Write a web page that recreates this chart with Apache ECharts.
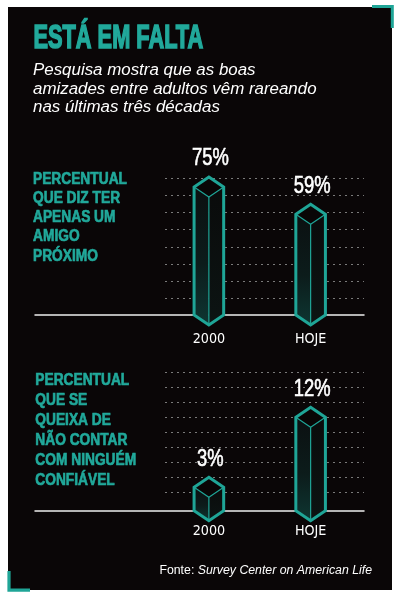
<!DOCTYPE html>
<html><head><meta charset="utf-8">
<script src="https://cdn.jsdelivr.net/npm/echarts@6/dist/echarts.min.js"></script>
<style>html,body{margin:0;padding:0;background:#fff}#c{width:400px;height:598px}</style>
</head><body><div id="c"></div>
<script>
// ---- data ----
const categories = ['2000', 'HOJE'];
const onlyOneCloseFriend = [75, 59];
const noOneToTrust = [3, 12];
const titleText = 'ESTÁ EM FALTA';
const subtitleLines = ['Pesquisa mostra que as boas', 'amizades entre adultos vêm rareando', 'nas últimas três décadas'];
const label1Lines = ['PERCENTUAL', 'QUE DIZ TER', 'APENAS UM', 'AMIGO', 'PRÓXIMO'];
const label2Lines = ['PERCENTUAL', 'QUE SE', 'QUEIXA DE', 'NÃO CONTAR', 'COM NINGUÉM', 'CONFIÁVEL'];
const sourceLabel = 'Fonte: ';
const sourceName = 'Survey Center on American Life';

// ---- style ----
const TEAL = '#1fa597';
const TEAL_TXT = '#21a99b';
const PANEL = '#0a0607';
const NARROW = '"Liberation Sans Narrow", "DejaVu Sans Condensed", sans-serif';

function prism(params, api) {
  const cat = api.value(0), v = api.value(1);
  const t = api.coord([cat, v]), b = api.coord([cat, 0]);
  const cx = t[0], yT = t[1], yB = b[1], hw = 14.8, d = 10;
  return {
    type: 'group',
    children: [
      { type: 'polygon', shape: { points: [[cx - hw, yT], [cx, yT + d], [cx, yB + d], [cx - hw, yB]] },
        style: { fill: new echarts.graphic.LinearGradient(0, 0, 0, 1, [{ offset: 0, color: '#0b1011' }, { offset: 0.55, color: '#0c1c1b' }, { offset: 1, color: '#0e3632' }]) } },
      { type: 'polygon', shape: { points: [[cx, yT + d], [cx + hw, yT], [cx + hw, yB], [cx, yB + d]] },
        style: { fill: new echarts.graphic.LinearGradient(0, 0, 0, 1, [{ offset: 0, color: '#0a0b0b' }, { offset: 1, color: '#0c1413' }]) } },
      { type: 'polygon', shape: { points: [[cx, yT - d], [cx + hw, yT], [cx, yT + d], [cx - hw, yT]] },
        style: { fill: '#090606' } },
      { type: 'polyline', shape: { points: [[cx - hw, yT], [cx, yT + d], [cx + hw, yT]] },
        style: { stroke: TEAL, lineWidth: 1.2, fill: 'none' } },
      { type: 'line', shape: { x1: cx, y1: yT + d, x2: cx, y2: yB + d },
        style: { stroke: TEAL, lineWidth: 1.2 } },
      { type: 'polygon', shape: { points: [[cx, yT - d], [cx + hw, yT], [cx + hw, yB], [cx, yB + d], [cx - hw, yB], [cx - hw, yT]] },
        style: { fill: 'none', stroke: TEAL, lineWidth: 3, lineJoin: 'miter' } },
      { type: 'text', x: cx + 1.5, y: yT - d - 18, scaleX: 0.8,
        style: { text: v + '%', fill: '#ffffff', stroke: '#ffffff', lineWidth: 0.6, font: '23px "Liberation Sans"', textAlign: 'center', textVerticalAlign: 'middle' } }
    ]
  };
}

const hiddenAxis = (g, extra) => Object.assign({ gridIndex: g, type: 'value', show: false }, extra || {});
const baseX = g => ({ gridIndex: g, type: 'value', min: 0, max: 1, z: 1,
  axisLine: { show: true, onZero: false, lineStyle: { color: '#eeeeee', width: 1.5 } },
  axisTick: { show: false }, axisLabel: { show: false }, splitLine: { show: false } });
const catX = (g, margin) => ({ gridIndex: g, type: 'category', data: categories,
  axisLine: { show: false }, axisTick: { show: false },
  axisLabel: { color: '#ffffff', fontFamily: NARROW, fontSize: 14.2, margin: margin } });
const dashY = (g, max, interval) => ({ gridIndex: g, type: 'value', min: 0, max: max, interval: interval,
  axisLine: { show: false }, axisTick: { show: false }, axisLabel: { show: false },
  splitLine: { show: true, showMinLine: false, lineStyle: { color: '#7a7a7a', width: 1, type: [2, 4] } } });

const option = {
  backgroundColor: '#ffffff',
  animation: false,
  grid: [
    { left: 35, right: 36, top: 178.5, height: 136.5 },
    { left: 165, right: 36, top: 178.5, height: 136.5 },
    { left: 158, width: 203.5, top: 178.5, height: 136.5 },
    { left: 35, right: 36, top: 370.7, height: 140 },
    { left: 165, right: 36, top: 372.25, height: 135.45 },
    { left: 158, width: 203.5, top: 370.7, height: 140 }
  ],
  xAxis: [baseX(0), hiddenAxis(1), catX(2, 17.3), baseX(3), hiddenAxis(4), catX(5, 13.3)],
  yAxis: [
    hiddenAxis(0, { min: 0, max: 1 }), dashY(1, 80, 10), hiddenAxis(2, { min: 0, max: 80 }),
    hiddenAxis(3, { min: 0, max: 1 }), dashY(4, 9, 1), hiddenAxis(5, { min: 0, max: 18 })
  ],
  series: [
    { type: 'custom', xAxisIndex: 2, yAxisIndex: 2, clip: false, z: 3, renderItem: prism,
      data: categories.map((c, i) => [i, onlyOneCloseFriend[i]]) },
    { type: 'custom', xAxisIndex: 5, yAxisIndex: 5, clip: false, z: 3, renderItem: prism,
      data: categories.map((c, i) => [i, noOneToTrust[i]]) }
  ],
  graphic: [
    { type: 'rect', z: -10, silent: true, shape: { x: 8, y: 7, width: 384, height: 583 }, style: { fill: PANEL } },
    { type: 'polyline', z: 10, shape: { points: [[372, 6.5], [392.3, 6.5], [392.3, 28]] },
      style: { stroke: TEAL, lineWidth: 3, fill: 'none', lineJoin: 'miter' } },
    { type: 'polyline', z: 10, shape: { points: [[9, 571], [9, 590.2], [30, 590.2]] },
      style: { stroke: TEAL, lineWidth: 3.2, fill: 'none', lineJoin: 'miter' } },
    { type: 'text', z: 10, x: 33.5, y: 38.6, scaleX: 0.67,
      style: { text: titleText, font: 'bold 32.5px "Liberation Sans"', fill: TEAL_TXT, stroke: TEAL_TXT, lineWidth: 1.6, textVerticalAlign: 'middle' } },
    { type: 'text', z: 10, x: 33, y: 60.9,
      style: { text: subtitleLines.join('\n'), font: 'italic 16.9px "Liberation Sans"', lineHeight: 18.6, fill: '#ffffff', textVerticalAlign: 'top' } },
    { type: 'text', z: 10, x: 33, y: 169.4, scaleX: 0.8,
      style: { text: label1Lines.join('\n'), font: 'bold 17.2px "Liberation Sans"', lineHeight: 19.2, fill: TEAL_TXT, stroke: TEAL_TXT, lineWidth: 0.7, textVerticalAlign: 'top' } },
    { type: 'text', z: 10, x: 35.3, y: 370.8, scaleX: 0.8,
      style: { text: label2Lines.join('\n'), font: 'bold 17.2px "Liberation Sans"', lineHeight: 19.86, fill: TEAL_TXT, stroke: TEAL_TXT, lineWidth: 0.7, textVerticalAlign: 'top' } },
    { type: 'text', z: 10, x: 372, y: 570.7,
      style: { text: '{a|' + sourceLabel + '}{b|' + sourceName + '}', textAlign: 'right', textVerticalAlign: 'middle',
        rich: { a: { fontSize: 12.3, fontFamily: 'Liberation Sans', fill: '#ffffff' },
                b: { fontSize: 12.3, fontFamily: 'Liberation Sans', fontStyle: 'italic', fill: '#ffffff' } } } }
  ]
};

const chart = echarts.init(document.getElementById('c'), null, { renderer: 'canvas' });
chart.setOption(option);
</script>
</body></html>
